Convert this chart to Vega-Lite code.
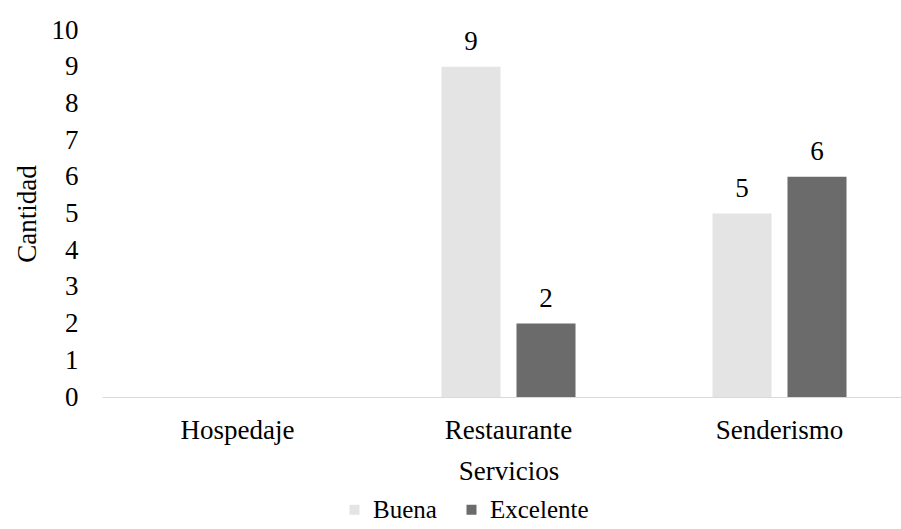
{
  "$schema": "https://vega.github.io/schema/vega-lite/v6.json",
  "width": 799,
  "height": 367,
  "autosize": {"type": "none"},
  "padding": {"left": 102, "top": 30, "right": 0, "bottom": 132},
  "background": "white",
  "config": {
    "font": "Liberation Serif",
    "view": {"stroke": null},
    "text": {"font": "Liberation Serif"}
  },
  "data": {
    "values": [
      {"Servicio": "Restaurante", "Calificación": "Buena", "Cantidad": 9},
      {"Servicio": "Restaurante", "Calificación": "Excelente", "Cantidad": 2},
      {"Servicio": "Senderismo", "Calificación": "Buena", "Cantidad": 5},
      {"Servicio": "Senderismo", "Calificación": "Excelente", "Cantidad": 6}
    ]
  },
  "encoding": {
    "x": {
      "field": "Servicio",
      "type": "nominal",
      "sort": null,
      "scale": {"domain": ["Hospedaje", "Restaurante", "Senderismo"], "range": [0, 813], "paddingInner": 0, "paddingOuter": 0},
      "axis": {
        "title": "Servicios",
        "labelAngle": 0,
        "ticks": false,
        "domainColor": "#d9d9d9",
        "domainWidth": 1,
        "labelFontSize": 27,
        "labelColor": "#000000",
        "labelPadding": 20,
        "titleFontSize": 27,
        "titleFontWeight": "normal",
        "titleColor": "#000000",
        "titlePadding": 15,
        "labelFont": "Liberation Serif",
        "titleFont": "Liberation Serif"
      }
    },
    "xOffset": {
      "field": "Calificación",
      "type": "nominal",
      "scale": {"domain": ["Buena", "Excelente"], "paddingInner": 0.213, "paddingOuter": 0.913}
    },
    "y": {
      "field": "Cantidad",
      "type": "quantitative",
      "scale": {"domain": [0, 10], "nice": false},
      "axis": {
        "title": "Cantidad",
        "values": [0, 1, 2, 3, 4, 5, 6, 7, 8, 9, 10],
        "grid": false,
        "domain": false,
        "ticks": false,
        "labelFontSize": 27,
        "labelColor": "#000000",
        "labelPadding": 24,
        "titleFontSize": 27,
        "titleFontWeight": "normal",
        "titleColor": "#000000",
        "titlePadding": 10,
        "labelFont": "Liberation Serif",
        "titleFont": "Liberation Serif"
      }
    }
  },
  "layer": [
    {
      "mark": {"type": "bar"},
      "encoding": {
        "color": {
          "field": "Calificación",
          "type": "nominal",
          "scale": {"domain": ["Buena", "Excelente"], "range": ["#e4e4e4", "#6b6b6b"]},
          "legend": {
            "title": null,
            "orient": "none",
            "direction": "horizontal",
            "legendX": 240,
            "legendY": 467,
            "symbolType": "square",
            "symbolSize": 100,
            "symbolStrokeWidth": 0,
            "labelFontSize": 25,
            "labelColor": "#000000",
            "labelFont": "Liberation Serif",
            "labelOffset": 6,
            "columnPadding": 22
          }
        }
      }
    },
    {
      "mark": {"type": "text", "baseline": "alphabetic", "dy": -17, "fontSize": 27, "color": "#000000", "font": "Liberation Serif"},
      "encoding": {"text": {"field": "Cantidad", "type": "quantitative"}}
    }
  ]
}
